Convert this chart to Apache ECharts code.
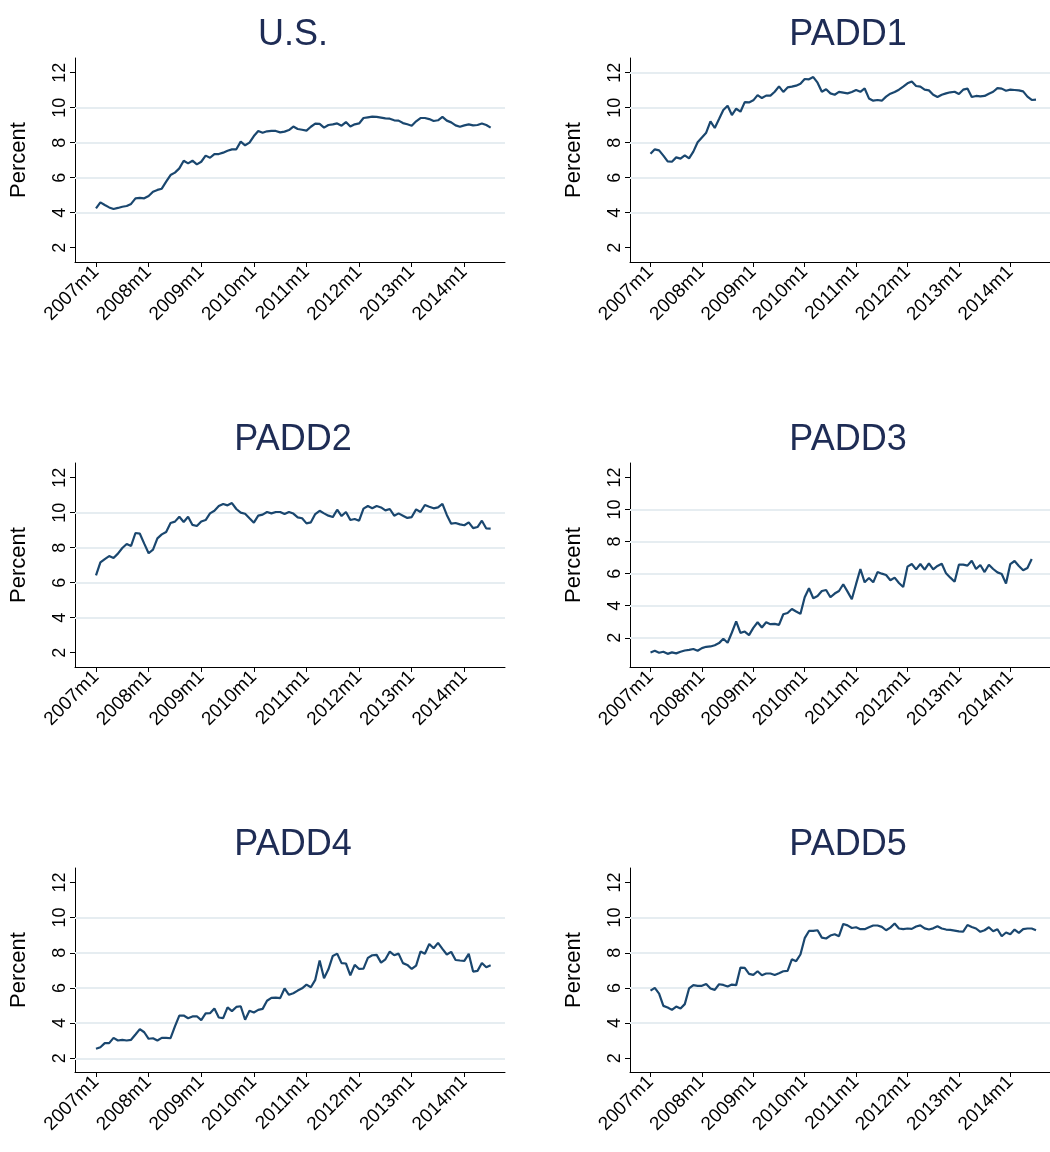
<!DOCTYPE html>
<html>
<head>
<meta charset="utf-8">
<title>Percent by PADD region, 2007-2014</title>
<script src="https://cdn.jsdelivr.net/npm/echarts@6/dist/echarts.min.js"></script>
<style>
  html, body { margin: 0; padding: 0; background: #ffffff; }
  #chart { width: 1050px; height: 1152px; }
</style>
</head>
<body>
<div id="chart"></div>
<script>
// Monthly series, 2007m1 onward (index 0 = 2007m1)
const usValues = [4.25,4.59,4.44,4.3,4.21,4.27,4.34,4.38,4.5,4.82,
  4.84,4.82,4.95,5.2,5.3,5.37,5.77,6.15,6.29,6.53,
  6.97,6.82,6.97,6.76,6.91,7.26,7.14,7.35,7.35,7.43,
  7.54,7.62,7.62,8.06,7.85,8.0,8.38,8.67,8.57,8.65,
  8.67,8.67,8.59,8.63,8.72,8.92,8.78,8.74,8.69,8.91,
  9.09,9.07,8.86,9.01,9.05,9.1,8.97,9.18,8.93,9.05,
  9.1,9.41,9.45,9.49,9.47,9.43,9.39,9.37,9.28,9.26,
  9.12,9.05,8.97,9.22,9.41,9.41,9.35,9.24,9.28,9.47,
  9.26,9.16,8.99,8.91,8.99,9.05,8.99,9.01,9.1,9.01,
  8.86];
const padd1Values = [7.37,7.62,7.56,7.26,6.93,6.91,7.16,7.09,7.28,7.1,
  7.49,8.02,8.3,8.57,9.22,8.84,9.35,9.87,10.11,9.58,
  9.94,9.77,10.32,10.3,10.42,10.72,10.55,10.69,10.69,10.91,
  11.22,10.9,11.16,11.2,11.26,11.37,11.64,11.62,11.75,11.43,
  10.91,11.05,10.82,10.74,10.9,10.86,10.82,10.9,11.01,10.91,
  11.1,10.53,10.4,10.44,10.4,10.63,10.8,10.9,11.03,11.2,
  11.39,11.5,11.24,11.2,11.03,10.99,10.74,10.61,10.74,10.82,
  10.88,10.91,10.78,11.03,11.09,10.61,10.67,10.65,10.67,10.8,
  10.91,11.12,11.09,10.97,11.03,11.01,10.99,10.93,10.63,10.44,
  10.46];
const padd2Values = [6.42,7.16,7.35,7.52,7.41,7.66,7.98,8.21,8.1,8.84,
  8.8,8.23,7.68,7.89,8.53,8.76,8.9,9.41,9.49,9.77,
  9.47,9.77,9.3,9.24,9.5,9.58,9.96,10.11,10.38,10.5,
  10.42,10.55,10.21,10.0,9.94,9.68,9.43,9.83,9.89,10.04,
  9.96,10.04,10.04,9.92,10.04,9.95,9.73,9.68,9.39,9.45,
  9.92,10.11,9.96,9.83,9.75,10.17,9.81,10.04,9.58,9.64,
  9.54,10.23,10.38,10.25,10.38,10.3,10.13,10.21,9.83,9.96,
  9.83,9.7,9.75,10.19,10.04,10.44,10.34,10.25,10.3,10.5,
  9.87,9.37,9.41,9.33,9.28,9.45,9.12,9.18,9.54,9.1,
  9.09];
const padd3Values = [1.09,1.19,1.07,1.13,1.0,1.09,1.03,1.13,1.21,1.25,
  1.3,1.19,1.36,1.44,1.46,1.54,1.67,1.94,1.69,2.33,
  3.02,2.31,2.39,2.17,2.62,2.97,2.64,2.97,2.85,2.87,
  2.81,3.47,3.55,3.8,3.64,3.49,4.53,5.09,4.47,4.61,
  4.92,4.98,4.53,4.76,4.92,5.34,4.88,4.4,5.36,6.29,
  5.46,5.73,5.46,6.1,6.0,5.92,5.59,5.75,5.42,5.17,
  6.44,6.6,6.27,6.6,6.25,6.64,6.27,6.48,6.62,6.02,
  5.75,5.5,6.56,6.56,6.5,6.81,6.29,6.54,6.1,6.56,
  6.29,6.08,5.98,5.38,6.6,6.79,6.48,6.21,6.35,6.91];
const padd4Values = [2.54,2.63,2.86,2.86,3.16,3.01,3.05,3.01,3.05,3.35,
  3.66,3.48,3.11,3.14,3.01,3.16,3.16,3.14,3.81,4.43,
  4.43,4.28,4.38,4.39,4.17,4.55,4.56,4.83,4.32,4.28,
  4.89,4.68,4.92,4.96,4.19,4.7,4.6,4.75,4.81,5.27,
  5.44,5.45,5.42,5.97,5.61,5.7,5.85,5.98,6.19,6.04,
  6.46,7.56,6.55,7.06,7.82,7.95,7.41,7.39,6.72,7.31,
  7.08,7.1,7.71,7.86,7.88,7.44,7.63,8.07,7.86,7.95,
  7.41,7.31,7.08,7.27,8.07,7.94,8.5,8.26,8.56,8.22,
  7.9,8.05,7.59,7.56,7.54,7.94,6.93,6.97,7.42,7.18,
  7.29];
const padd5Values = [5.85,6.0,5.68,4.98,4.89,4.75,4.94,4.83,5.08,5.97,
  6.16,6.12,6.12,6.23,5.97,5.89,6.21,6.17,6.08,6.19,
  6.16,7.16,7.14,6.8,6.74,6.95,6.72,6.82,6.82,6.74,
  6.84,6.95,6.97,7.63,7.52,7.9,8.83,9.24,9.24,9.28,
  8.86,8.81,8.98,9.05,8.94,9.64,9.56,9.41,9.45,9.34,
  9.34,9.45,9.55,9.55,9.47,9.28,9.43,9.66,9.38,9.34,
  9.38,9.36,9.49,9.56,9.39,9.32,9.39,9.51,9.38,9.32,
  9.3,9.26,9.22,9.2,9.58,9.47,9.38,9.19,9.28,9.45,
  9.22,9.34,8.94,9.15,9.05,9.32,9.13,9.34,9.38,9.38,
  9.28];

const panelTitles = ['U.S.', 'PADD1', 'PADD2', 'PADD3', 'PADD4', 'PADD5'];
const panelSeries = [usValues, padd1Values, padd2Values, padd3Values, padd4Values, padd5Values];

// x-axis ticks: month index and its label
const xTickMonths = [0, 12, 24, 36, 48, 60, 72, 84];
const xTickLabels = ['2007m1', '2008m1', '2009m1', '2010m1', '2011m1', '2012m1', '2013m1', '2014m1'];
// y-axis ticks
const yTickValues = [2, 4, 6, 8, 10, 12];
// gridlines drawn in each panel
const panelGridValues = [
  [4, 6, 8, 10],
  [4, 6, 8, 10, 12],
  [4, 6, 8, 10],
  [2, 4, 6, 8, 10],
  [2, 4, 6, 8, 10],
  [4, 6, 8, 10]
];

// ---- layout / style ----
const FONT = '"Liberation Sans", Arial, Helvetica, sans-serif';
const LINE_COLOR = '#1a476f';
const TITLE_COLOR = '#1e2c55';
const GRID_COLOR = '#e6edf1';
const colLeft = [75, 630];
const rowTop = [58, 463, 868];
const plotW = 430, plotH = 204;
const xRange = [-4.79, 93.27];
const yRanges = [
  [1.18, 12.84], [1.18, 12.84], [1.18, 12.84],
  [0.18, 12.9], [1.22, 12.82], [1.22, 12.82]
];

const tickLabelMap = {};
xTickMonths.forEach((m, k) => { tickLabelMap[m] = xTickLabels[k]; });

const grids = [], xAxes = [], yAxes = [], series = [], titles = [];
panelTitles.forEach((name, p) => {
  const col = p % 2, row = Math.floor(p / 2);
  const left = colLeft[col], top = rowTop[row];
  grids.push({ left: left, top: top, width: plotW, height: plotH, containLabel: false });
  titles.push({
    text: name,
    left: left + plotW / 2 - 2,
    top: top - 46,
    textAlign: 'center',
    textStyle: { fontFamily: FONT, fontSize: 36, fontWeight: 'normal', color: TITLE_COLOR }
  });
  xAxes.push({
    type: 'value', gridIndex: p, min: xRange[0], max: xRange[1],
    axisLine: { show: true, onZero: false, lineStyle: { color: '#000', width: 1 } },
    axisTick: { show: true, length: 5, customValues: xTickMonths, lineStyle: { color: '#000' } },
    axisLabel: {
      show: true, customValues: xTickMonths, rotate: 45, margin: 7,
      fontFamily: FONT, fontSize: 19, color: '#000',
      formatter: v => tickLabelMap[Math.round(v)] || ''
    },
    splitLine: { show: false }
  });
  yAxes.push({
    type: 'value', gridIndex: p, min: yRanges[p][0], max: yRanges[p][1],
    name: 'Percent', nameLocation: 'middle', nameRotate: 90, nameGap: 45,
    nameTextStyle: { fontFamily: FONT, fontSize: 22, color: '#000' },
    axisLine: { show: true, onZero: false, lineStyle: { color: '#000', width: 1 } },
    axisTick: { show: true, length: 5, customValues: yTickValues, lineStyle: { color: '#000' } },
    axisLabel: {
      show: true, customValues: yTickValues, rotate: 90, margin: 6,
      fontFamily: FONT, fontSize: 18, color: '#000'
    },
    splitLine: { show: false }
  });
  series.push({
    type: 'line', xAxisIndex: p, yAxisIndex: p,
    data: panelSeries[p].map((v, i) => [i, v]),
    showSymbol: false, symbol: 'none',
    lineStyle: { color: LINE_COLOR, width: 2.2 },
    itemStyle: { color: LINE_COLOR },
    z: 3,
    markLine: {
      silent: true, z: 1, symbol: ['none', 'none'],
      label: { show: false },
      lineStyle: { color: GRID_COLOR, width: 2, type: 'solid' },
      emphasis: { disabled: true },
      data: panelGridValues[p].map(v => ({ yAxis: v }))
    }
  });
});

const chart = echarts.init(document.getElementById('chart'), null, { renderer: 'canvas' });
chart.setOption({
  backgroundColor: '#ffffff',
  animation: false,
  title: titles,
  grid: grids,
  xAxis: xAxes,
  yAxis: yAxes,
  series: series
});
</script>
</body>
</html>
